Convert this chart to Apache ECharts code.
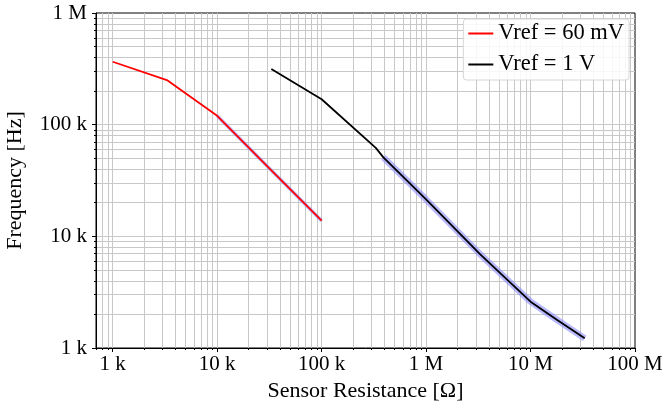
<!DOCTYPE html>
<html>
<head>
<meta charset="utf-8">
<script src="https://cdn.jsdelivr.net/npm/echarts@6/dist/echarts.min.js"></script>
<style>
  html, body { margin: 0; padding: 0; background: #fff; }
  #main { width: 666px; height: 407px; }
</style>
</head>
<body>
<div id="main"></div>
<script>
// 坐标轴刻度
var xTickValues = [1e3, 1e4, 1e5, 1e6, 1e7, 1e8];
var xTickLabels = ['1 k', '10 k', '100 k', '1 M', '10 M', '100 M'];
var yTickValues = [1e3, 1e4, 1e5, 1e6];
var yTickLabels = ['1 k', '10 k', '100 k', '1 M'];

// Vref = 60 mV
var resistanceLow = [1000, 3300, 10000, 33000, 100000];
var freqLow = [366000, 251000, 120000, 39000, 13800];

// Vref = 1 V
var resistanceHigh = [33000, 100000, 330000, 390000, 1e6, 3.3e6, 1e7, 1.8e7, 3.3e7];
var freqHigh = [315000, 169000, 62000, 51000, 21400, 6900, 2600, 1780, 1220];

var xMin = 692, xMax = 1e8, yMin = 1e3, yMax = 1e6;
var FONT = 'Liberation Serif';

function pairs(xs, ys) {
  return xs.map(function (x, i) { return [x, ys[i]]; });
}

// 对数轴的次刻度 2..9
function minorValues(lo, hi) {
  var out = [];
  for (var d = 1; d <= 1e8; d *= 10) {
    for (var m = 2; m <= 9; m++) {
      var v = m * d;
      if (v > lo && v < hi) out.push(v);
    }
  }
  return out;
}

function labelOf(values, labels) {
  return function (v) {
    for (var i = 0; i < values.length; i++) {
      if (Math.abs(Math.log10(values[i]) - Math.log10(v)) < 1e-6) return labels[i];
    }
    return '';
  };
}

var xMinor = minorValues(xMin, xMax);
var yMinor = minorValues(yMin, yMax);

var gridLines = [];
xTickValues.concat(xMinor).forEach(function (v) {
  if (v > xMin && v < xMax) gridLines.push({ xAxis: v });
});
yTickValues.concat(yMinor).forEach(function (v) {
  if (v > yMin && v < yMax) gridLines.push({ yAxis: v });
});

var chartDom = document.getElementById('main');
var myChart = echarts.init(chartDom);

var textStyle = { fontFamily: FONT, fontSize: 21, color: '#000' };
var nameStyle = { fontFamily: FONT, fontSize: 22, color: '#000' };

var option = {
  animation: false,
  grid: {
    left: 96, right: 31, top: 13, bottom: 59,
    outerBoundsMode: 'none',
    containLabel: false,
    show: true, borderColor: '#000', borderWidth: 1,
    backgroundColor: 'transparent'
  },
  legend: {
    orient: 'vertical',
    right: 37,
    top: 19,
    z: 10,
    data: ['Vref = 60 mV', 'Vref = 1 V'],
    icon: 'rect',
    itemWidth: 25,
    itemHeight: 2,
    itemGap: 8,
    padding: [3, 5, 4, 5],
    backgroundColor: 'rgba(255,255,255,0.85)',
    borderColor: '#d6d6d6',
    borderWidth: 1,
    borderRadius: 3,
    textStyle: { fontFamily: FONT, fontSize: 22.5, color: '#000' }
  },
  xAxis: [
    {
      type: 'log', logBase: 10, min: xMin, max: xMax,
      position: 'bottom',
      name: 'Sensor Resistance [Ω]',
      nameLocation: 'middle',
      nameGap: 27,
      nameTextStyle: nameStyle,
      axisLine: { show: true, lineStyle: { color: '#000', width: 1 } },
      axisTick: { show: true, customValues: xTickValues, length: 4, lineStyle: { color: '#000' } },
      axisLabel: Object.assign({ customValues: xTickValues, formatter: labelOf(xTickValues, xTickLabels), margin: 6 }, textStyle),
      splitLine: { show: false }
    },
    {
      type: 'log', logBase: 10, min: xMin, max: xMax,
      position: 'bottom',
      axisLine: { show: false },
      axisTick: { show: true, customValues: xMinor, length: 2, lineStyle: { color: '#000' } },
      axisLabel: { show: false },
      splitLine: { show: false }
    }
  ],
  yAxis: [
    {
      type: 'log', logBase: 10, min: yMin, max: yMax,
      position: 'left',
      name: 'Frequency [Hz]',
      nameLocation: 'middle',
      nameGap: 70,
      nameTextStyle: nameStyle,
      axisLine: { show: true, lineStyle: { color: '#000', width: 1 } },
      axisTick: { show: true, customValues: yTickValues, length: 4, lineStyle: { color: '#000' } },
      axisLabel: Object.assign({ customValues: yTickValues, formatter: labelOf(yTickValues, yTickLabels), margin: 9 }, textStyle),
      splitLine: { show: false }
    },
    {
      type: 'log', logBase: 10, min: yMin, max: yMax,
      position: 'left',
      axisLine: { show: false },
      axisTick: { show: true, customValues: yMinor, length: 2, lineStyle: { color: '#000' } },
      axisLabel: { show: false },
      splitLine: { show: false }
    }
  ],
  series: [
    // 网格线（主 + 次）
    {
      name: 'grid',
      type: 'line',
      data: [],
      z: 0,
      silent: true,
      markLine: {
        z: 0,
        silent: true,
        symbol: 'none',
        label: { show: false },
        lineStyle: { color: '#c8c8c8', width: 1, type: 'solid' },
        emphasis: { disabled: true },
        animation: false,
        data: gridLines
      }
    },
    // 置信带（蓝色阴影）
    {
      name: 'band60',
      type: 'line',
      data: pairs(resistanceLow, freqLow).slice(2),
      showSymbol: false,
      z: 2,
      lineStyle: { color: '#8c8cff', width: 3.5, opacity: 0.6 },
      silent: true
    },
    {
      name: 'band1',
      type: 'line',
      data: pairs(resistanceHigh, freqHigh).slice(3),
      showSymbol: false,
      z: 2,
      lineStyle: { color: '#8c8cff', width: 6.5, opacity: 0.6 },
      silent: true
    },
    {
      name: 'Vref = 60 mV',
      type: 'line',
      data: pairs(resistanceLow, freqLow),
      showSymbol: false,
      z: 3,
      itemStyle: { color: '#ff0000' },
      lineStyle: { color: '#ff0000', width: 1.8 }
    },
    {
      name: 'Vref = 1 V',
      type: 'line',
      data: pairs(resistanceHigh, freqHigh),
      showSymbol: false,
      z: 3,
      itemStyle: { color: '#000000' },
      lineStyle: { color: '#000000', width: 1.8 }
    }
  ]
};

option && myChart.setOption(option);
</script>
</body>
</html>
